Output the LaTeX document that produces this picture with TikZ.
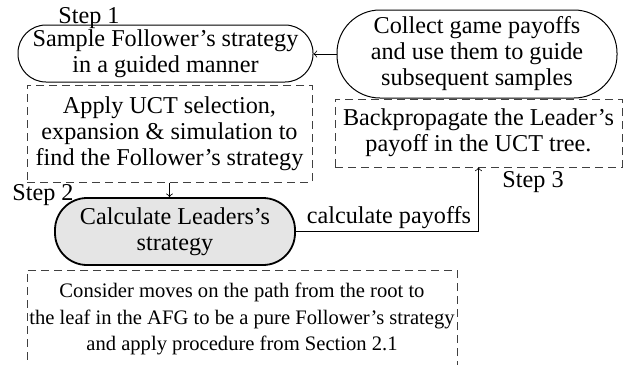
\documentclass[tikz,border=0pt]{standalone}
\usepackage{fontspec}
\setmainfont{Liberation Serif}
\begin{document}
\begin{tikzpicture}[x=0.5pt,y=-0.5pt,
  every node/.style={font=\fontsize{12.1}{13}\selectfont, align=center, inner sep=0pt},
  stadium/.style={draw, line width=0.5pt, rounded corners=#1},
  dbox/.style={draw=black!75, dash pattern=on 4pt off 2.5pt, line width=0.5pt},
  arr/.style={->, line width=0.4pt}]
\useasboundingbox (0,0) rectangle (625,364);
\node[stadium=14pt, minimum width=147.5pt, minimum height=28.5pt] (s1) at (165.5,53.5) {Sample Follower’s strategy\\in a guided manner};
\node[stadium=21.5pt, minimum width=140pt, minimum height=44pt] (s2) at (477,54) {Collect game payoffs\\and use them to guide\\subsequent samples};
\node[dbox, minimum width=142.5pt, minimum height=48.5pt] (uct) at (169.5,133.5) {Apply UCT selection,\\expansion \& simulation to\\find the Follower’s strategy};
\node[dbox, minimum width=143.5pt, minimum height=34pt] (bp) at (478.5,133) {Backpropagate the Leader’s\\payoff in the UCT tree.};
\node[draw, line width=0.9pt, fill=black!10, rounded corners=16pt, minimum width=120pt, minimum height=33.5pt] (calc) at (175,231.5) {Calculate Leaders’s\\strategy};
\node[dbox, minimum width=215pt, minimum height=49pt, font=\fontsize{10.3}{13.2}\selectfont] (cons) at (242,319) {Consider moves on the path from the root to\\the leaf in the AFG to be a pure Follower’s strategy\\and apply procedure from Section 2.1};
\node (st1) at (89,18) {Step 1};
\node (st2) at (43,195) {Step 2};
\node (st3) at (533,182) {Step 3};
\node (lbl) at (389,218) {calculate payoffs};
\draw[arr] (s2.west) -- (s2.west -| s1.east);
\draw[arr] (uct.south) -- (uct.south |- calc.north);
\draw[arr] (calc.east) -| (bp.south);
\end{tikzpicture}
\end{document}
